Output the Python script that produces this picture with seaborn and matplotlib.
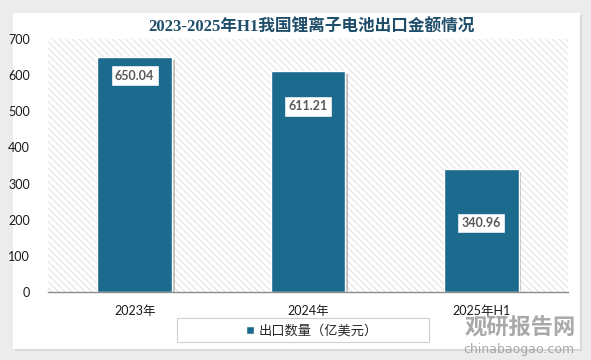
import pandas as pd
import matplotlib
matplotlib.use('Agg')
import matplotlib.pyplot as plt
import matplotlib.patheffects as pe
from matplotlib.patches import Rectangle
import seaborn as sns

# datos del grafico
years = ['2023年', '2024年', '2025年H1']
export_values = [650.04, 611.21, 340.96]
y_ticks = [0, 100, 200, 300, 400, 500, 600, 700]
title_text = '2023-2025年H1我国锂离子电池出口金额情况'
legend_label = '出口数量（亿美元）'

bar_color = '#1c6a8e'
label_frac = [0.92, 0.84, 0.56]  # altura relativa de las etiquetas dentro de la barra

sns.set_theme(style='white')
plt.rcParams['font.family'] = ['Lato', 'Noto Sans CJK SC', 'DejaVu Sans']
plt.rcParams['hatch.linewidth'] = 0.5

df = pd.DataFrame({'year': years, 'value': export_values})

W, H = 591, 360
fig = plt.figure(figsize=(W / 100, H / 100), dpi=100)
fig.patch.set_facecolor('#ececec')
# tarjeta blanca con sombra
fig.patches.append(Rectangle((15 / W, (H - 351) / H), 567 / W, 336 / H, transform=fig.transFigure,
                             facecolor='#d9d9d9', edgecolor='none', zorder=-10))
fig.patches.append(Rectangle((13 / W, (H - 349) / H), 567 / W, 336 / H, transform=fig.transFigure,
                             facecolor='white', edgecolor='none', zorder=-9))

ax = fig.add_axes([48 / W, (H - 292) / H, 520 / W, (292 - 39) / H])
ax.set_facecolor('white')
ax.add_patch(Rectangle((0, 0), 1, 1, transform=ax.transAxes, facecolor='white',
                       edgecolor='#d6d6d6', hatch='\\' * 5, linewidth=0, zorder=0))

sns.barplot(data=df, x='year', y='value', color=bar_color, width=0.43, saturation=1,
            edgecolor='white', linewidth=1, ax=ax, zorder=2)
for bar in ax.patches[1:]:
    bar.set_path_effects([pe.SimplePatchShadow(offset=(2, -2), shadow_rgbFace='#555555', alpha=0.35),
                          pe.Normal()])

# etiquetas de valor
for i, v in enumerate(export_values):
    ax.text(i, v * label_frac[i], f'{v:.2f}', ha='center', va='center', fontsize=9,
            fontweight='bold', color='#595959', zorder=5,
            bbox=dict(boxstyle='square,pad=0.35', facecolor='white', edgecolor=bar_color, linewidth=1))

ax.set_xlim(-0.5, 2.5)
ax.set_ylim(0, 700)
ax.set_yticks(y_ticks)
ax.set_xlabel('')
ax.set_ylabel('')
ax.tick_params(axis='y', length=0, pad=13, labelsize=9, labelcolor='#1a1a1a')
ax.tick_params(axis='x', length=0, pad=9, labelsize=9, labelcolor='#1a1a1a')
for s in ['top', 'right', 'left']:
    ax.spines[s].set_visible(False)
ax.spines['bottom'].set_color('#8c8c8c')
ax.spines['bottom'].set_linewidth(1)

fig.text(311 / W, 1 - 28 / H, title_text, ha='center', va='center', fontsize=12,
         fontweight='bold', color='#1f4e6b', family=['Liberation Serif', 'Noto Sans CJK SC'])

# leyenda con marco propio
fig.patches.append(Rectangle((177 / W, (H - 342) / H), 252 / W, 24 / H, transform=fig.transFigure,
                             facecolor='white', edgecolor='#d0d0d0', linewidth=0.8, zorder=-8))
handle = Rectangle((0, 0), 1, 1, facecolor=bar_color)
fig.legend([handle], [legend_label], loc='center', bbox_to_anchor=(312 / W, 1 - 330 / H),
           frameon=False, fontsize=9.5, handlelength=0.6, handleheight=0.6, handletextpad=0.4)

# marca de agua
fig.text(520 / W, 1 - 328 / H, '观研报告网', ha='center', va='center', fontsize=16,
         fontweight='bold', color='#9a9a9a', alpha=0.85, family=['Noto Sans CJK SC'])
fig.text(519 / W, 1 - 349 / H, 'chinabaogao.com', ha='center', va='center', fontsize=9,
         color='#9a9a9a', alpha=0.85, family=['DejaVu Sans'])

fig.savefig('out.png', dpi=100, facecolor=fig.get_facecolor())
